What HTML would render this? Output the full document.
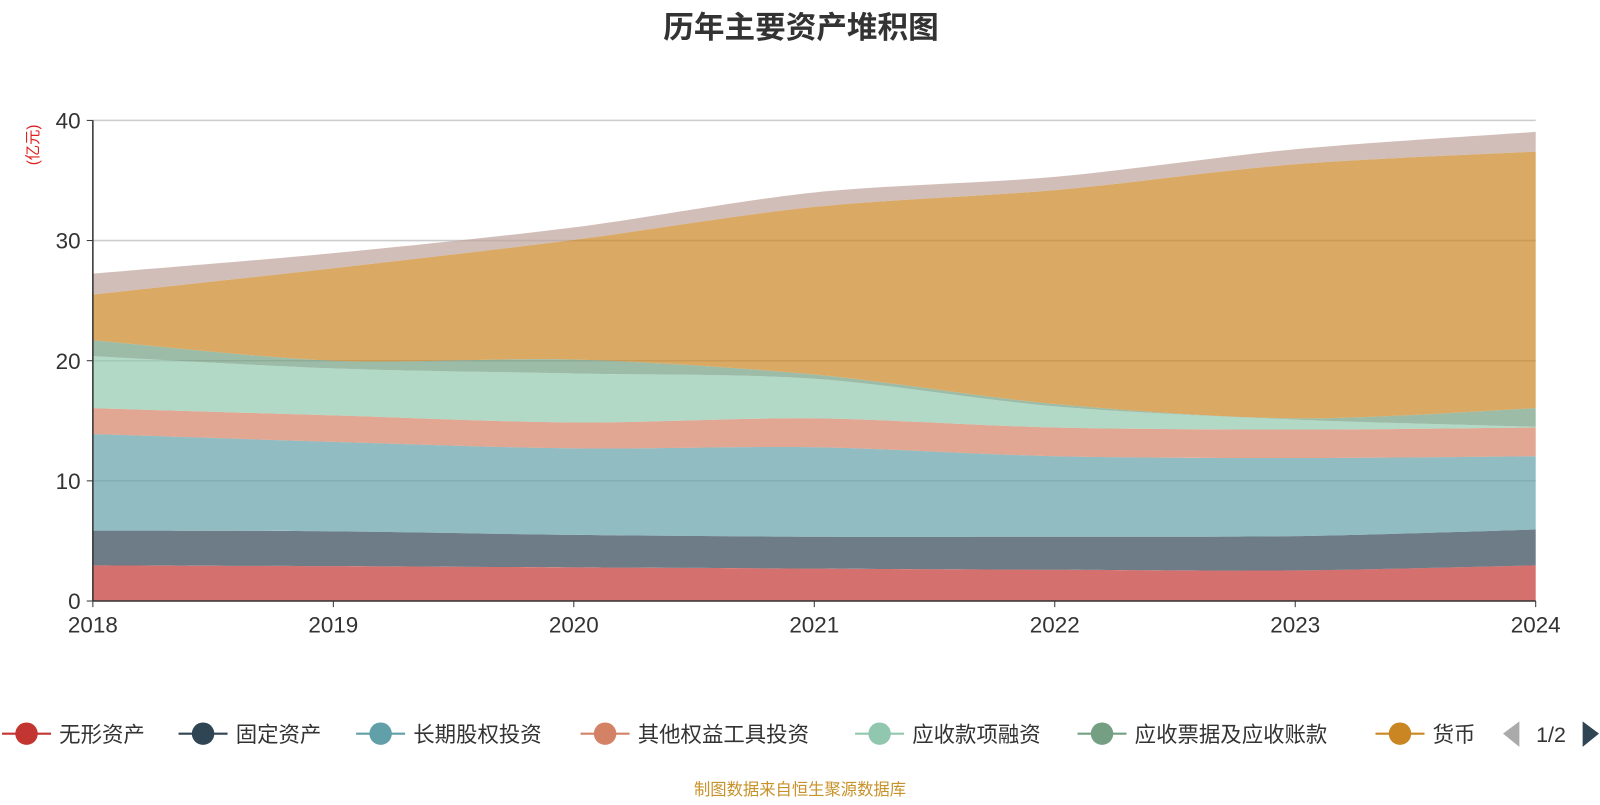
<!DOCTYPE html>
<html><head><meta charset="utf-8"><style>
body{margin:0;background:#fff;font-family:"Liberation Sans","Noto Sans CJK SC",sans-serif;}
</style></head><body>
<svg id="chart" width="1600" height="800" xmlns="http://www.w3.org/2000/svg" font-family="Liberation Sans, Noto Sans CJK SC, sans-serif">
<g transform="scale(1.0204)">
<text x="785" y="37" text-anchor="middle" font-size="30" font-weight="bold" fill="#333">历年主要资产堆积图</text>
<text transform="translate(37,142) rotate(-90)" text-anchor="middle" font-size="15" fill="#e02020">(亿元)</text>
<g id="grid"></g><g id="areas"></g><g id="axes"></g><g id="legend"></g>
<text x="784" y="779" text-anchor="middle" font-size="16" fill="#c8922a">制图数据来自恒生聚源数据库</text>
</g>
</svg>
<script>
const years=['2018','2019','2020','2021','2022','2023','2024'];
const yTicks=[0,10,20,30,40];
const seriesNames=['无形资产','固定资产','长期股权投资','其他权益工具投资','应收款项融资','应收票据及应收账款','货币','其他'];
const s0=[2.97,2.9,2.8,2.7,2.6,2.55,2.97];
const s1=[2.89,2.9,2.7,2.65,2.75,2.85,2.98];
const s2=[8.04,7.45,7.2,7.45,6.7,6.5,6.1];
const s3=[2.15,2.2,2.16,2.4,2.39,2.37,2.39];
const s4=[4.33,3.91,4.08,3.3,1.76,0.83,0.06];
const s5=[1.32,0.64,1.16,0.35,0.2,0.1,1.55];
const s6=[3.8,7.7,9.96,13.95,17.8,21.15,21.35];
const s7=[1.75,1.25,1.04,1.2,1.1,1.25,1.65];
const series=[s0,s1,s2,s3,s4,s5,s6,s7];
const colors=['#c23531','#2f4554','#61a0a8','#d48265','#91c7ae','#749f83','#ca8622','#bda29a'];
const NS='http://www.w3.org/2000/svg';
const x0=91,x1=1505,yb=589,yt=118,ymax=40;
const X=i=>x0+(x1-x0)*i/(years.length-1);
const Y=v=>yb-(yb-yt)*v/ymax;
function mk(t,a,p){const e=document.createElementNS(NS,t);for(const k in a)e.setAttribute(k,a[k]);p.appendChild(e);return e;}
function curve(pts){let d='';for(let i=0;i<pts.length-1;i++){const p0=pts[Math.max(i-1,0)],p1=pts[i],p2=pts[i+1],p3=pts[Math.min(i+2,pts.length-1)];const t=0.15;
const c1=[p1[0]+(p2[0]-p0[0])*t,p1[1]+(p2[1]-p0[1])*t],c2=[p2[0]-(p3[0]-p1[0])*t,p2[1]-(p3[1]-p1[1])*t];d+=` C${c1[0]},${c1[1]} ${c2[0]},${c2[1]} ${p2[0]},${p2[1]}`;}return d;}
const grid=document.getElementById('grid');
yTicks.forEach(v=>{if(v>0){const l=mk('line',{x1:x0,x2:x1,y1:Y(v),y2:Y(v),stroke:'#ccc','stroke-width':1.5},grid);}});
const areas=document.getElementById('areas');
let cum=years.map(()=>0);
series.forEach((s,k)=>{const lo=cum.slice();const hi=cum.map((c,i)=>c+s[i]);cum=hi;
const top=hi.map((v,i)=>[X(i),Y(v)]);const bot=lo.map((v,i)=>[X(i),Y(v)]).reverse();
const d=`M${top[0][0]},${top[0][1]}`+curve(top)+` L${bot[0][0]},${bot[0][1]}`+curve(bot)+'Z';
const p=mk('path',{d:d,fill:colors[k],'fill-opacity':0.7},areas);
});
const axes=document.getElementById('axes');
let a=mk('line',{x1:x0,x2:x0,y1:yt,y2:yb,stroke:'#333','stroke-width':1.5},axes);
a=mk('line',{x1:x0,x2:x1,y1:yb,y2:yb,stroke:'#333','stroke-width':1.5},axes);
yTicks.forEach(v=>{mk('line',{x1:x0-6,x2:x0,y1:Y(v),y2:Y(v),stroke:'#333'},axes);const t=mk('text',{x:x0-12,y:Y(v)+8,'text-anchor':'end','font-size':22,fill:'#333'},axes);t.textContent=v;});
years.forEach((y,i)=>{mk('line',{x1:X(i),x2:X(i),y1:yb,y2:yb+6,stroke:'#333'},axes);const t=mk('text',{x:X(i),y:620,'text-anchor':'middle','font-size':22,fill:'#333'},axes);t.textContent=y;});
const lg=document.getElementById('legend');
const cx=[26,199,373,593,862,1080,1372];
for(let k=0;k<7;k++){const g=mk('g',{},lg);
mk('line',{x1:cx[k]-24,x2:cx[k]+24,y1:719,y2:719,stroke:colors[k],'stroke-width':2},g);mk('circle',{cx:cx[k],cy:719,r:11,fill:colors[k]},g);
const t=mk('text',{x:cx[k]+32,y:727,'font-size':21,fill:'#333'},g);t.textContent=seriesNames[k];}
let pg=mk('path',{d:'M1489,707 L1473,719 L1489,732Z',fill:'#aaa'},lg);
pg=mk('path',{d:'M1551,707 L1567,719 L1551,732Z',fill:'#2f4554'},lg);
const pt=mk('text',{x:1520,y:727,'text-anchor':'middle','font-size':21,fill:'#333'},lg);pt.textContent='1/2';
</script>
</body></html>
